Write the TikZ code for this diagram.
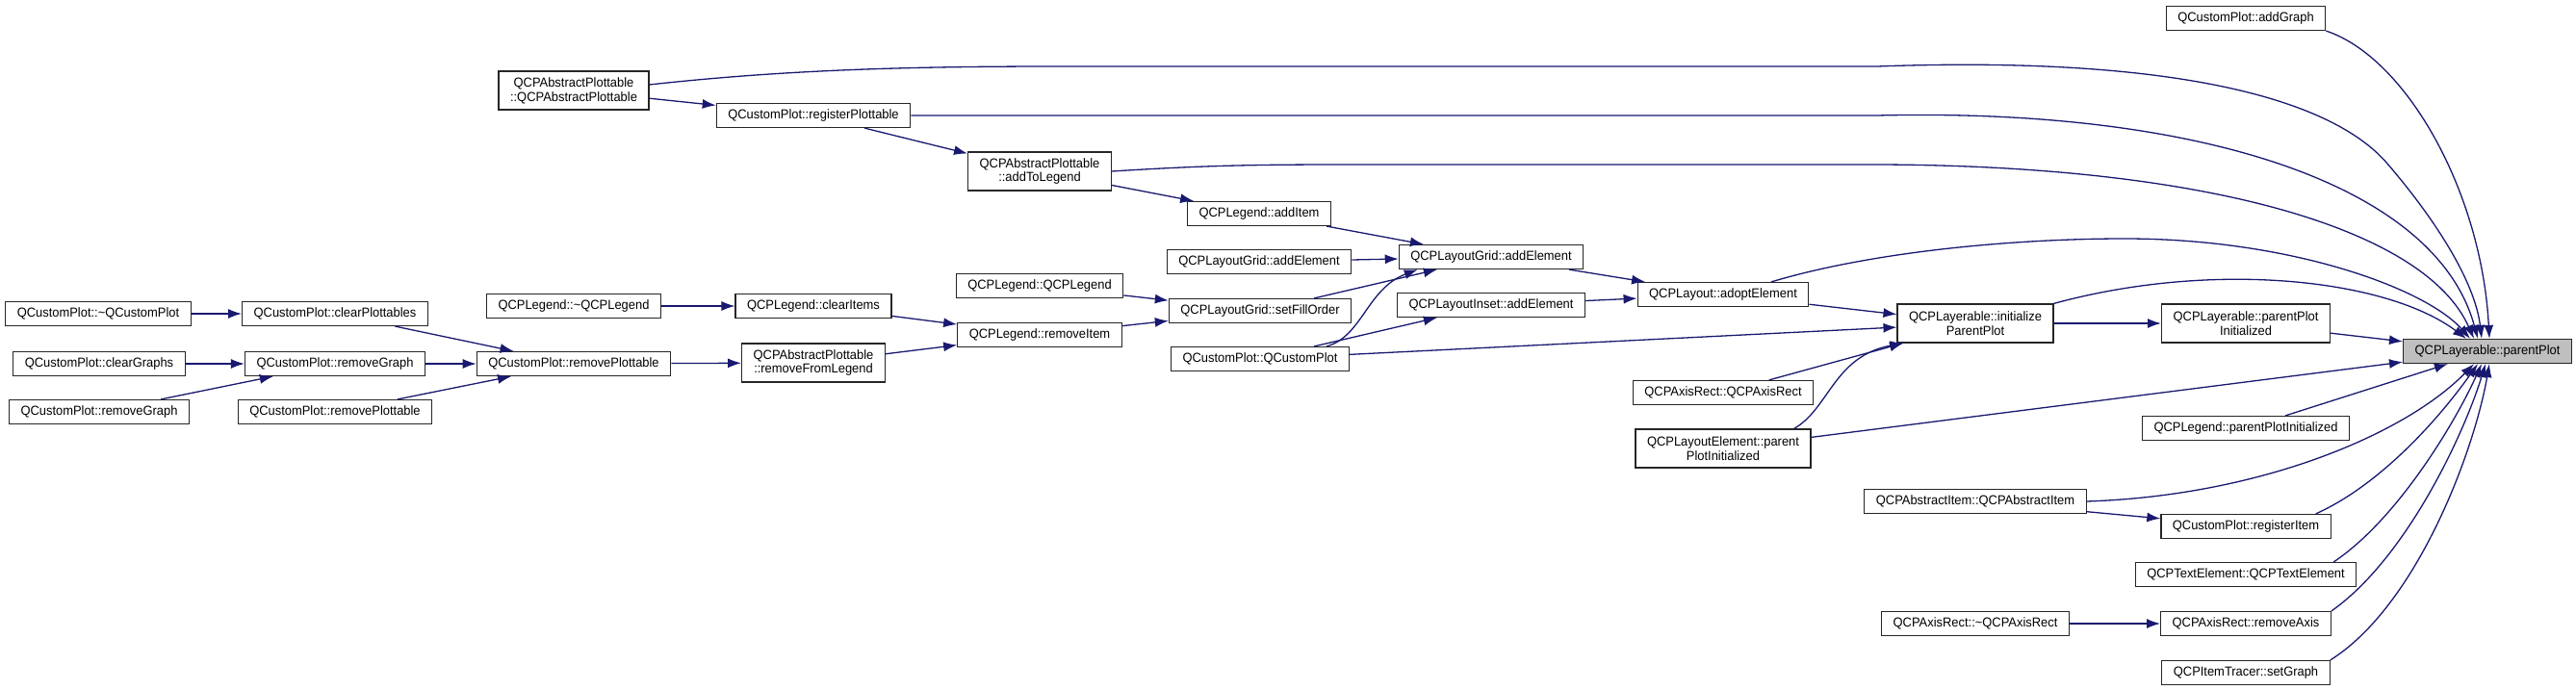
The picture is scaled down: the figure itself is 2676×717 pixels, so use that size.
\documentclass[tikz,border=0pt]{standalone}
\usepackage{fontspec}
\setmainfont{Liberation Sans}[FakeStretch=0.95]
\usetikzlibrary{arrows.meta}
\definecolor{edgeblue}{HTML}{191970}
\definecolor{selgray}{HTML}{BFBFBF}

\begin{document}
\begin{tikzpicture}[x=0.5pt, y=-0.5pt,
	fnbox/.style={draw=black!85, line width=0.6pt, fill=white, rectangle, inner xsep=6pt, inner ysep=0pt, minimum height=12.5pt, align=center, font=\fontsize{6.8}{7.4}\selectfont},
	fnbox2/.style={fnbox, minimum height=20pt},
	call/.style={draw=edgeblue, line width=0.65pt, -{Latex[length=7pt, width=5pt]}}]

\useasboundingbox (0,0) rectangle (2676,717);

% removePlottable callers (left)
\node[fnbox] (plotdtor) at (102,326) {QCustomPlot::\textasciitilde QCustomPlot};
\node[fnbox] (clearplottables) at (348,326) {QCustomPlot::clearPlottables};
\node[fnbox] (cleargraphs) at (103,378) {QCustomPlot::clearGraphs};
\node[fnbox] (removegrapha) at (348,378) {QCustomPlot::removeGraph};
\node[fnbox] (removegraphb) at (103,428) {QCustomPlot::removeGraph};
\node[fnbox] (removeplottableb) at (348,428) {QCustomPlot::removePlottable};
\node[fnbox] (removeplottablea) at (596,378) {QCustomPlot::removePlottable};

% legend
\node[fnbox] (legenddtor) at (596,318) {QCPLegend::\textasciitilde QCPLegend};
\node[fnbox] (clearitems) at (845,318) {QCPLegend::clearItems};
\node[fnbox2] (removefromlegend) at (845,377) {QCPAbstractPlottable\\::removeFromLegend};
\node[fnbox] (removeitem) at (1080,348) {QCPLegend::removeItem};
\node[fnbox] (legendctor) at (1080,297) {QCPLegend::QCPLegend};

% plottable registration (top)
\node[fnbox2] (plottablector) at (596,94) {QCPAbstractPlottable\\::QCPAbstractPlottable};
\node[fnbox] (regplottable) at (845,120) {QCustomPlot::registerPlottable};
\node[fnbox2] (addtolegend) at (1080,178) {QCPAbstractPlottable\\::addToLegend};
\node[fnbox] (additem) at (1308,222) {QCPLegend::addItem};

% layout
\node[fnbox] (gridaddl) at (1308,272) {QCPLayoutGrid::addElement};
\node[fnbox] (setfillorder) at (1309,323) {QCPLayoutGrid::setFillOrder};
\node[fnbox] (plotctor) at (1309,373) {QCustomPlot::QCustomPlot};
\node[fnbox] (gridaddr) at (1549,267) {QCPLayoutGrid::addElement};
\node[fnbox] (insetadd) at (1549,317) {QCPLayoutInset::addElement};
\node[fnbox] (adopt) at (1790,306) {QCPLayout::adoptElement};
\node[fnbox] (axisrectctor) at (1790,408) {QCPAxisRect::QCPAxisRect};
\node[fnbox2] (elemppinit) at (1790,466) {QCPLayoutElement::parent\\PlotInitialized};

% right column
\node[fnbox2] (initpp) at (2052,336) {QCPLayerable::initialize\\ParentPlot};
\node[fnbox] (addgraph) at (2333,19) {QCustomPlot::addGraph};
\node[fnbox2] (ppinit) at (2333,336) {QCPLayerable::parentPlot\\Initialized};
\node[fnbox] (legendppinit) at (2333,445) {QCPLegend::parentPlotInitialized};
\node[fnbox] (itemctor) at (2052,521) {QCPAbstractItem::QCPAbstractItem};
\node[fnbox] (regitem) at (2333,547) {QCustomPlot::registerItem};
\node[fnbox] (textelem) at (2333,597) {QCPTextElement::QCPTextElement};
\node[fnbox] (axisrectdtor) at (2052,648) {QCPAxisRect::\textasciitilde QCPAxisRect};
\node[fnbox] (removeaxis) at (2333,648) {QCPAxisRect::removeAxis};
\node[fnbox] (setgraph) at (2333,699) {QCPItemTracer::setGraph};
\node[fnbox, fill=selgray] (parentplot) at (2584,365) {QCPLayerable::parentPlot};

% left edges
\draw[call] (plotdtor) -- (clearplottables);
\draw[call] (clearplottables) -- (removeplottablea);
\draw[call] (cleargraphs) -- (removegrapha);
\draw[call] (removegraphb) -- (removegrapha);
\draw[call] (removegrapha) -- (removeplottablea);
\draw[call] (removeplottableb) -- (removeplottablea);
\draw[call] (removeplottablea) -- (removefromlegend);
\draw[call] (legenddtor) -- (clearitems);
\draw[call] (clearitems) -- (removeitem);
\draw[call] (removefromlegend) -- (removeitem);
\draw[call] (legendctor) -- (setfillorder);
\draw[call] (removeitem) -- (setfillorder);

% middle edges
\draw[call] (plottablector) -- (regplottable);
\draw[call] (regplottable) -- (addtolegend);
\draw[call] (addtolegend) -- (additem);
\draw[call] (additem) -- (gridaddr);
\draw[call] (gridaddl) -- (gridaddr);
\draw[call] (setfillorder) -- (gridaddr);
\draw[call] ([xshift=34.5pt]plotctor.north) .. controls (1415,350) and (1420,300) .. ([xshift=10pt]gridaddr.south west);
\draw[call] (plotctor) -- (insetadd);
\draw[call] (gridaddr) -- (adopt);
\draw[call] (insetadd) -- (adopt);
\draw[call] (adopt) -- (initpp);
\draw[call] (plotctor) -- (initpp);
\draw[call] (axisrectctor) -- (initpp);
\draw[call] ([xshift=-9pt]elemppinit.north east) .. controls (1900,425) and (1905,370) .. ([xshift=3.5pt]initpp.south west);
\draw[call] (initpp) -- (ppinit);

% into parentPlot from above
\draw[call] (addgraph.south east) .. controls (2500,60) and (2578,200) .. ([xshift=1pt]parentplot.north);
\draw[call] ([yshift=3pt]plottablector.east) .. controls (820,72) and (950,69) .. (1100,69) -- (1950,69) .. controls (2250,58) and (2420,100) .. (2480,170) .. controls (2540,240) and (2572,300) .. ([xshift=-3pt]parentplot.north);
\draw[call] (regplottable.east) -- (1950,120) .. controls (2280,112) and (2530,190) .. ([xshift=-5pt]parentplot.north);
\draw[call] (addtolegend.east) .. controls (1250,172) and (1300,171) .. (1400,171) -- (1950,171) .. controls (2300,172) and (2520,240) .. ([xshift=-7pt]parentplot.north);
\draw[call] ([xshift=25pt]adopt.north) .. controls (1950,260) and (2100,248) .. (2207,248) .. controls (2380,248) and (2520,300) .. ([xshift=-9pt]parentplot.north);
\draw[call] (initpp.north east) .. controls (2300,270) and (2480,290) .. ([xshift=-11pt]parentplot.north);

% into parentPlot, straight
\draw[call] (ppinit) -- (parentplot);
\draw[call] (elemppinit) -- (parentplot);
\draw[call] (legendppinit) -- (parentplot);

% into parentPlot from below
\draw[call] (itemctor) -- (regitem);
\draw[call] (axisrectdtor) -- (removeaxis);
\draw[call] (itemctor.east) .. controls (2350,515) and (2500,450) .. ([xshift=-7pt]parentplot.south);
\draw[call] ([xshift=-8pt]regitem.north east) .. controls (2470,505) and (2530,440) .. ([xshift=-5pt]parentplot.south);
\draw[call] ([xshift=-12pt]textelem.north east) .. controls (2490,540) and (2550,440) .. ([xshift=-3pt]parentplot.south);
\draw[call] (removeaxis.north east) .. controls (2500,580) and (2560,450) .. ([xshift=-1pt]parentplot.south);
\draw[call] (setgraph.north east) .. controls (2510,630) and (2570,470) .. ([xshift=1pt]parentplot.south);

\end{tikzpicture}
\end{document}
